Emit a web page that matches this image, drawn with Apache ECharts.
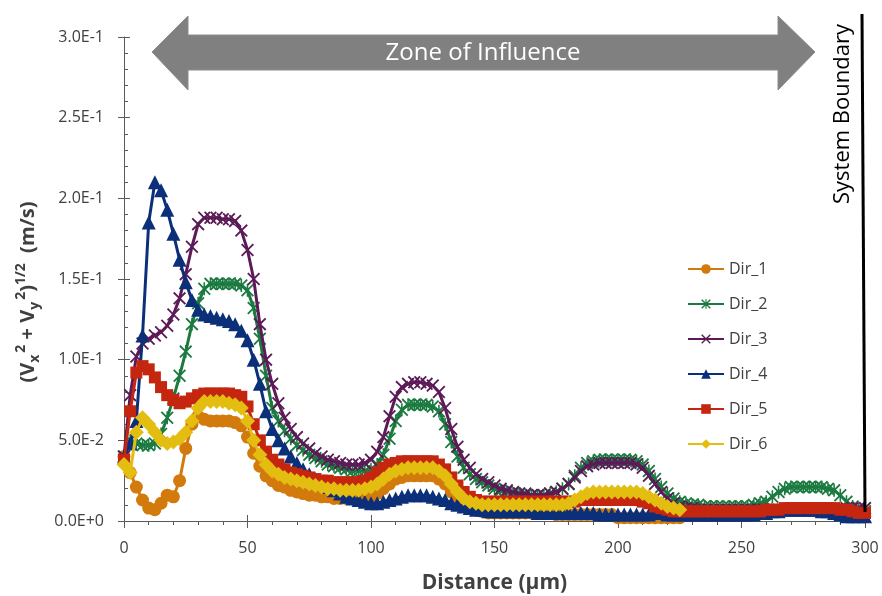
<!DOCTYPE html>
<html>
<head>
<meta charset="utf-8">
<script src="https://cdn.jsdelivr.net/npm/echarts@6/dist/echarts.min.js"></script>
<style>
html, body { margin: 0; padding: 0; background: #fff; }
#chart { width: 882px; height: 596px; }
</style>
</head>
<body>
<div id="chart"></div>
<script>
// distance grid (µm), one sample every 2.5 µm
var distance = Array.from({ length: 121 }, function (_, i) { return i * 2.5; });

var dir1 = [
  0.040, 0.030, 0.021, 0.013, 0.008, 0.007, 0.011, 0.016, 0.015, 0.025,
  0.045, 0.060, 0.065, 0.063, 0.062, 0.062, 0.062, 0.062, 0.061, 0.059,
  0.052, 0.042, 0.034, 0.028, 0.025, 0.022, 0.021, 0.019, 0.018, 0.017,
  0.016, 0.016, 0.015, 0.015, 0.014, 0.014, 0.014, 0.014, 0.014, 0.014,
  0.015, 0.017, 0.020, 0.023, 0.026, 0.027, 0.028, 0.028, 0.028, 0.028,
  0.028, 0.026, 0.023, 0.018, 0.013, 0.010, 0.008, 0.007, 0.006, 0.005,
  0.005, 0.005, 0.005, 0.005, 0.005, 0.005, 0.005, 0.005, 0.005, 0.005,
  0.004, 0.004, 0.004, 0.004, 0.004, 0.004, 0.004, 0.004, 0.004, 0.004,
  0.002, 0.002, 0.002, 0.002, 0.002, 0.002, 0.002, 0.002, 0.002, 0.002,
  0.002, null, null, null, null, null, null, null, null, null,
  null, null, null, null, null, null, null, null, null, null,
  null, null, null, null, null, null, null, null, null, null,
  null
];

var dir2 = [
  0.040, 0.050, 0.048, 0.047, 0.047, 0.048, 0.054, 0.064, 0.076, 0.090,
  0.105, 0.122, 0.135, 0.144, 0.147, 0.147, 0.147, 0.147, 0.147, 0.146,
  0.143, 0.132, 0.113, 0.090, 0.070, 0.062, 0.056, 0.051, 0.047, 0.044,
  0.041, 0.039, 0.037, 0.035, 0.034, 0.033, 0.032, 0.031, 0.031, 0.031,
  0.032, 0.035, 0.041, 0.051, 0.062, 0.069, 0.072, 0.072, 0.072, 0.072,
  0.071, 0.068, 0.060, 0.049, 0.040, 0.033, 0.029, 0.026, 0.024, 0.022,
  0.020, 0.019, 0.018, 0.017, 0.017, 0.016, 0.016, 0.016, 0.016, 0.017,
  0.018, 0.020, 0.023, 0.028, 0.033, 0.036, 0.037, 0.038, 0.038, 0.038,
  0.038, 0.038, 0.038, 0.037, 0.035, 0.031, 0.026, 0.021, 0.017, 0.014,
  0.012, 0.011, 0.010, 0.010, 0.009, 0.009, 0.009, 0.009, 0.009, 0.009,
  0.009, 0.009, 0.010, 0.011, 0.012, 0.015, 0.018, 0.020, 0.021, 0.021,
  0.021, 0.021, 0.021, 0.021, 0.020, 0.019, 0.016, 0.012, 0.009, 0.007,
  0.006
];

var dir3 = [
  0.040, 0.078, 0.102, 0.110, 0.113, 0.115, 0.117, 0.121, 0.128, 0.138,
  0.153, 0.170, 0.184, 0.188, 0.188, 0.188, 0.187, 0.187, 0.186, 0.180,
  0.168, 0.150, 0.122, 0.100, 0.085, 0.073, 0.064, 0.057, 0.052, 0.048,
  0.045, 0.042, 0.040, 0.038, 0.037, 0.036, 0.035, 0.035, 0.035, 0.036,
  0.038, 0.043, 0.052, 0.065, 0.077, 0.083, 0.085, 0.086, 0.086, 0.085,
  0.084, 0.080, 0.070, 0.057, 0.046, 0.038, 0.033, 0.029, 0.026, 0.024,
  0.022, 0.020, 0.019, 0.018, 0.017, 0.017, 0.016, 0.016, 0.016, 0.017,
  0.018, 0.020, 0.023, 0.027, 0.031, 0.034, 0.035, 0.036, 0.036, 0.036,
  0.036, 0.036, 0.036, 0.035, 0.033, 0.028, 0.023, 0.018, 0.014, 0.011,
  0.009, 0.008, 0.008, 0.007, 0.007, 0.007, 0.007, 0.007, 0.007, 0.007,
  0.007, 0.007, 0.007, 0.007, 0.007, 0.007, 0.007, 0.007, 0.007, 0.007,
  0.007, 0.007, 0.007, 0.007, 0.007, 0.007, 0.007, 0.008, 0.008, 0.008,
  0.008
];

var dir4 = [
  0.040, 0.048, 0.062, 0.115, 0.185, 0.210, 0.205, 0.193, 0.178, 0.162,
  0.148, 0.137, 0.131, 0.128, 0.127, 0.126, 0.125, 0.124, 0.122, 0.118,
  0.112, 0.100, 0.085, 0.068, 0.057, 0.050, 0.045, 0.040, 0.036, 0.032,
  0.029, 0.026, 0.023, 0.021, 0.019, 0.017, 0.015, 0.014, 0.013, 0.012,
  0.011, 0.011, 0.012, 0.013, 0.014, 0.015, 0.016, 0.016, 0.016, 0.016,
  0.015, 0.014, 0.013, 0.011, 0.010, 0.009, 0.008, 0.007, 0.007, 0.006,
  0.006, 0.006, 0.006, 0.006, 0.006, 0.006, 0.006, 0.005, 0.005, 0.005,
  0.005, 0.005, 0.005, 0.005, 0.005, 0.005, 0.005, 0.004, 0.004, 0.004,
  0.004, 0.004, 0.004, 0.004, 0.004, 0.004, 0.005, 0.005, 0.004, 0.004,
  0.004, 0.004, 0.004, 0.004, 0.004, 0.004, 0.004, 0.004, 0.004, 0.004,
  0.004, 0.004, 0.004, 0.005, 0.005, 0.006, 0.006, 0.007, 0.007, 0.007,
  0.007, 0.007, 0.007, 0.006, 0.006, 0.005, 0.004, 0.003, 0.003, 0.003,
  0.003
];

var dir5 = [
  0.038, 0.068, 0.092, 0.096, 0.094, 0.089, 0.083, 0.078, 0.075, 0.073,
  0.074, 0.076, 0.078, 0.079, 0.079, 0.079, 0.079, 0.079, 0.078, 0.077,
  0.071, 0.060, 0.050, 0.043, 0.038, 0.035, 0.032, 0.030, 0.029, 0.028,
  0.027, 0.026, 0.025, 0.025, 0.024, 0.024, 0.024, 0.024, 0.024, 0.025,
  0.027, 0.030, 0.033, 0.035, 0.036, 0.037, 0.037, 0.037, 0.037, 0.037,
  0.037, 0.035, 0.032, 0.027, 0.022, 0.018, 0.015, 0.013, 0.012, 0.012,
  0.012, 0.012, 0.012, 0.012, 0.012, 0.012, 0.012, 0.012, 0.012, 0.012,
  0.012, 0.012, 0.012, 0.012, 0.013, 0.013, 0.013, 0.013, 0.013, 0.013,
  0.013, 0.013, 0.013, 0.013, 0.012, 0.011, 0.009, 0.008, 0.007, 0.006,
  0.006, 0.006, 0.006, 0.006, 0.006, 0.006, 0.006, 0.006, 0.006, 0.006,
  0.006, 0.006, 0.006, 0.006, 0.007, 0.007, 0.007, 0.008, 0.008, 0.008,
  0.008, 0.008, 0.008, 0.008, 0.008, 0.008, 0.007, 0.007, 0.006, 0.005,
  0.005
];

var dir6 = [
  0.035, 0.030, 0.055, 0.064, 0.060, 0.055, 0.050, 0.048, 0.049, 0.051,
  0.055, 0.062, 0.070, 0.074, 0.074, 0.074, 0.074, 0.073, 0.072, 0.070,
  0.062, 0.050, 0.041, 0.035, 0.031, 0.029, 0.027, 0.026, 0.025, 0.024,
  0.023, 0.022, 0.021, 0.020, 0.020, 0.019, 0.019, 0.019, 0.019, 0.020,
  0.021, 0.023, 0.026, 0.029, 0.031, 0.032, 0.033, 0.033, 0.033, 0.033,
  0.033, 0.031, 0.028, 0.023, 0.018, 0.014, 0.012, 0.011, 0.010, 0.010,
  0.010, 0.010, 0.010, 0.010, 0.010, 0.010, 0.010, 0.010, 0.010, 0.010,
  0.010, 0.010, 0.011, 0.013, 0.015, 0.017, 0.018, 0.018, 0.018, 0.018,
  0.018, 0.018, 0.018, 0.018, 0.017, 0.015, 0.013, 0.011, 0.009, 0.008,
  0.007, null, null, null, null, null, null, null, null, null,
  null, null, null, null, null, null, null, null, null, null,
  null, null, null, null, null, null, null, null, null, null,
  null
];

var names = ['Dir_1', 'Dir_2', 'Dir_3', 'Dir_4', 'Dir_5', 'Dir_6'];
var colors = ['#D27A0C', '#1B7A40', '#5C1A57', '#0B2F79', '#C4260F', '#E3BD10'];

var xMark = 'path://M0,1L1,0L5,4L9,0L10,1L6,5L10,9L9,10L5,6L1,10L0,9L4,5Z';
var starMark = 'path://M0,1L1,0L5,4L9,0L10,1L6,5L10,9L9,10L5,6L1,10L0,9L4,5Z M4.4,0L5.6,0L5.6,10L4.4,10Z';
var symbols = ['circle', starMark, xMark, 'triangle', 'rect', 'diamond'];
var sizes = [13, 13, 13, 14, 12, 15];

var font = 'Open Sans';

function pairs(vals) {
  var out = [];
  vals.forEach(function (v, i) {
    if (v !== null) out.push([distance[i], v]);
  });
  return out;
}

var chart = echarts.init(document.getElementById('chart'));

var series = [dir1, dir2, dir3, dir4, dir5, dir6].map(function (vals, i) {
  return {
    name: names[i],
    type: 'line',
    xAxisIndex: 0,
    yAxisIndex: 0,
    data: pairs(vals),
    symbol: symbols[i],
    symbolSize: sizes[i],
    showSymbol: true,
    itemStyle: { color: colors[i] },
    lineStyle: { color: colors[i], width: 3 },
    z: 2 + i
  };
});

var axisColor = '#595959';

var option = {
  animation: false,
  backgroundColor: '#fff',
  grid: { left: 124, right: 17, top: 37, bottom: 75, outerBoundsMode: 'none', containLabel: false },
  legend: {
    orient: 'vertical',
    left: 682,
    top: 256,
    itemWidth: 36,
    itemHeight: 12,
    itemGap: 19,
    textStyle: { fontSize: 16, color: '#404040', fontFamily: font },
    data: names
  },
  xAxis: [{
    type: 'value',
    min: 0,
    max: 300,
    interval: 50,
    name: 'Distance (μm)',
    nameLocation: 'middle',
    nameGap: 52,
    nameTextStyle: { fontSize: 21, fontWeight: 'bold', color: '#404040', fontFamily: font },
    axisLine: { lineStyle: { color: axisColor, width: 1 } },
    axisTick: { length: 7, lineStyle: { color: axisColor } },
    minorTick: { show: true, splitNumber: 5, length: 4, lineStyle: { color: axisColor } },
    splitLine: { show: false },
    axisLabel: { fontSize: 16, color: '#404040', margin: 19, fontFamily: font }
  }, {
    type: 'value',
    position: 'bottom',
    min: 0,
    max: 300,
    interval: 50,
    axisLine: { show: false },
    axisTick: { inside: true, length: 6, lineStyle: { color: axisColor } },
    axisLabel: { show: false },
    splitLine: { show: false }
  }],
  yAxis: [{
    type: 'value',
    min: 0,
    max: 0.3,
    interval: 0.05,
    axisLine: { show: true, lineStyle: { color: axisColor, width: 1 } },
    axisTick: { show: true, inside: true, length: 6, lineStyle: { color: axisColor } },
    minorTick: { show: true, splitNumber: 5, length: 4, lineStyle: { color: axisColor } },
    splitLine: { show: false },
    axisLabel: {
      fontSize: 16,
      color: '#404040',
      margin: 20,
      fontFamily: font,
      formatter: function (v) { return v.toExponential(1).toUpperCase(); }
    }
  }, {
    type: 'value',
    position: 'left',
    min: 0,
    max: 0.3,
    interval: 0.05,
    axisLine: { show: false },
    axisTick: { show: true, length: 6, lineStyle: { color: axisColor } },
    axisLabel: { show: false },
    splitLine: { show: false }
  }],
  series: series
};

chart.setOption(option);

// annotations: y title, double arrow and system boundary
var xb = chart.convertToPixel({ xAxisIndex: 0 }, 300);
chart.setOption({
  graphic: [
    {
      type: 'text',
      x: 28,
      y: 292,
      rotation: Math.PI / 2,
      style: {
        text: '{b|(V}{sub|x}{sup|2}{b| + V}{sub|y}{sup|2}{b|)}{sup|1/2}{b|  (m/s)}',
        align: 'center',
        verticalAlign: 'middle',
        rich: {
          b: { fontSize: 20, fontWeight: 'bold', fill: '#404040', fontFamily: font, lineHeight: 36 },
          sub: { fontSize: 14, fontWeight: 'bold', fill: '#404040', fontFamily: font, verticalAlign: 'bottom', lineHeight: 16, padding: [0, 2, 4, 0] },
          sup: { fontSize: 14, fontWeight: 'bold', fill: '#404040', fontFamily: font, verticalAlign: 'top', lineHeight: 16, padding: [4, 0, 0, 0] }
        }
      },
      z: 12
    },
    {
      type: 'polygon',
      shape: {
        points: [
          [152, 52], [188, 16], [188, 35], [778, 35], [778, 16],
          [815, 52], [778, 90], [778, 70], [188, 70], [188, 90]
        ]
      },
      style: { fill: '#808080', stroke: '#8c8c8c', lineWidth: 1 },
      z: 10
    },
    {
      type: 'text',
      x: 483,
      y: 53,
      style: {
        text: 'Zone of Influence',
        fill: '#fff',
        fontSize: 24,
        fontFamily: font,
        align: 'center',
        verticalAlign: 'middle'
      },
      z: 11
    },
    {
      type: 'line',
      shape: { x1: xb - 3, y1: 14, x2: xb, y2: 512 },
      style: { stroke: '#000', lineWidth: 3 },
      z: 12
    },
    {
      type: 'text',
      x: 843,
      y: 114,
      rotation: Math.PI / 2,
      style: {
        text: 'System Boundary',
        fill: '#000',
        fontSize: 22,
        fontFamily: font,
        align: 'center',
        verticalAlign: 'middle'
      },
      z: 12
    }
  ]
});
</script>
</body>
</html>
